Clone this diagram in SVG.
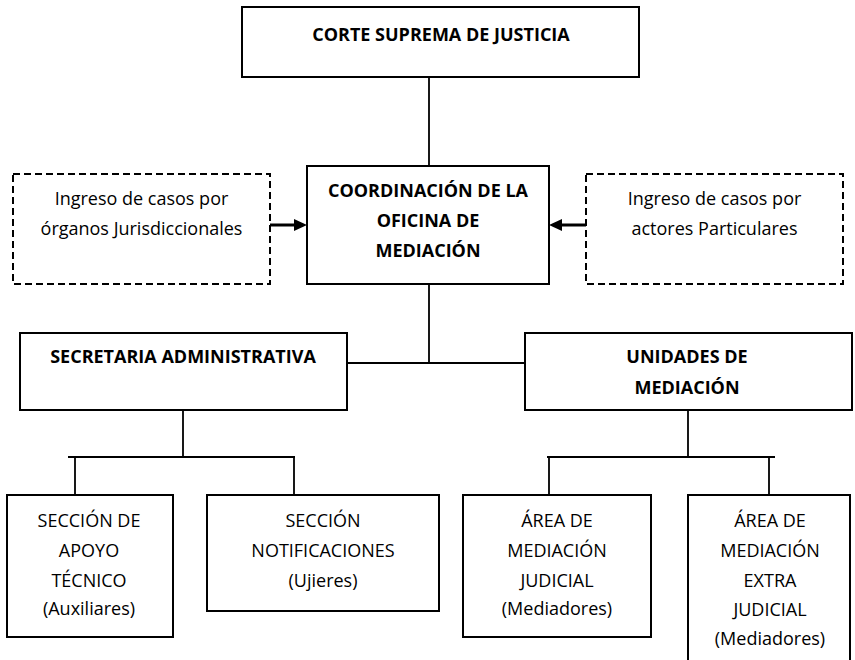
<svg xmlns="http://www.w3.org/2000/svg" width="855" height="660" viewBox="0 0 855 660">
<defs>
<marker id="arr" viewBox="0 0 13 12" refX="0" refY="6" markerWidth="13" markerHeight="12" markerUnits="userSpaceOnUse" orient="auto"><path d="M0,0 L13,6 L0,12 Z" fill="#000"/></marker>
</defs>
<style>
.box{fill:#fff;stroke:#000;stroke-width:2}
.dash{fill:#fff;stroke:#000;stroke-width:2;stroke-dasharray:7 4}
.ln{stroke:#000;stroke-width:1.8;fill:none}
.arw{stroke:#000;stroke-width:3;fill:none}
text{font-family:"Open Sans","Liberation Sans",sans-serif;font-size:18px;text-anchor:middle;fill:#000}
.b{font-weight:bold;font-size:18px}
</style>
<rect width="855" height="660" fill="#fff"/>
<g id="connectors">
<path class="ln" d="M429,77 V166"/>
<path class="ln" d="M429,284 V363 M347,363 H525"/>
<path class="ln" d="M183,410 V457 M68,457 H295 M75,457 V495 M294,457 V495"/>
<path class="ln" d="M688,410 V457 M547,457 H775 M549,457 V495 M769,457 V495"/>
<path class="arw" d="M270,225 H294" marker-end="url(#arr)"/>
<path class="arw" d="M586,225 H562" marker-end="url(#arr)"/>
</g>
<g id="corte">
<rect class="box" x="242" y="7" width="397" height="70"/>
<text class="b" x="441" y="41">CORTE SUPREMA DE JUSTICIA</text>
</g>
<g id="coordinacion">
<rect class="box" x="307" y="166" width="242" height="118"/>
<text class="b" x="428" y="197">COORDINACIÓN DE LA</text>
<text class="b" x="428" y="227">OFICINA DE</text>
<text class="b" x="428" y="257">MEDIACIÓN</text>
</g>
<g id="ingreso-organos">
<rect class="dash" x="13" y="174" width="257" height="110"/>
<text x="141.5" y="205">Ingreso de casos por</text>
<text x="141.5" y="235">órganos Jurisdiccionales</text>
</g>
<g id="ingreso-actores">
<rect class="dash" x="586" y="174" width="257" height="110"/>
<text x="714.5" y="205">Ingreso de casos por</text>
<text x="714.5" y="235">actores Particulares</text>
</g>
<g id="secretaria">
<rect class="box" x="20" y="333" width="327" height="77"/>
<text class="b" x="183" y="363">SECRETARIA ADMINISTRATIVA</text>
</g>
<g id="unidades">
<rect class="box" x="525" y="333" width="327" height="77"/>
<text class="b" x="687" y="363">UNIDADES DE</text>
<text class="b" x="687" y="394">MEDIACIÓN</text>
</g>
<g id="apoyo">
<rect class="box" x="7" y="495" width="166" height="142"/>
<text x="89" y="527">SECCIÓN DE</text>
<text x="89" y="557">APOYO</text>
<text x="89" y="587">TÉCNICO</text>
<text x="89" y="615">(Auxiliares)</text>
</g>
<g id="notificaciones">
<rect class="box" x="207" y="495" width="232" height="116"/>
<text x="323" y="527">SECCIÓN</text>
<text x="323" y="557">NOTIFICACIONES</text>
<text x="323" y="587">(Ujieres)</text>
</g>
<g id="judicial">
<rect class="box" x="463" y="495" width="188" height="142"/>
<text x="557" y="527">ÁREA DE</text>
<text x="557" y="557">MEDIACIÓN</text>
<text x="557" y="587">JUDICIAL</text>
<text x="557" y="615">(Mediadores)</text>
</g>
<g id="extrajudicial">
<rect class="box" x="688" y="495" width="162" height="180"/>
<text x="770" y="527">ÁREA DE</text>
<text x="770" y="557">MEDIACIÓN</text>
<text x="770" y="587">EXTRA</text>
<text x="770" y="616">JUDICIAL</text>
<text x="770" y="645">(Mediadores)</text>
</g>
</svg>
